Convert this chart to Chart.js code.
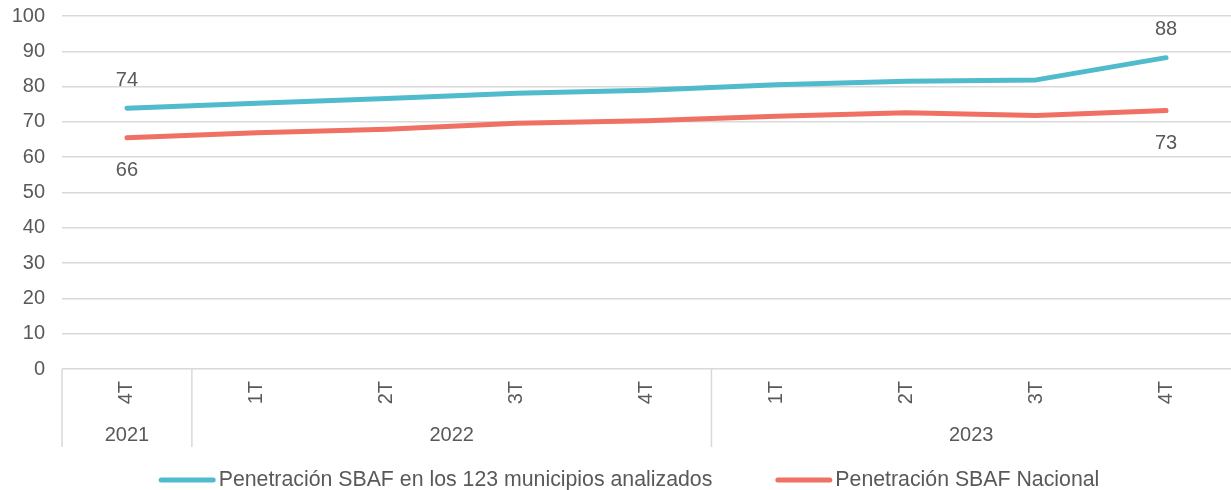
<!DOCTYPE html>
<html>
<head>
<meta charset="utf-8">
<script src="https://cdn.jsdelivr.net/npm/chart.js@4"></script>
<style>
  html, body { margin: 0; padding: 0; background: #fff; }
  #wrap { width: 1231px; height: 490px; }
</style>
</head>
<body>
<div id="wrap"><canvas id="chart"></canvas></div>
<script>
// Penetración SBAF — trimestral 4T 2021 a 4T 2023
const QUARTERS = ['4T', '1T', '2T', '3T', '4T', '1T', '2T', '3T', '4T'];
const YEARS = ['2021', '2022', '2023'];
const YEAR_SPANS = [1, 4, 4]; // quarters per year

const MUNICIPIOS = [73.9, 75.3, 76.6, 78.1, 79.0, 80.5, 81.5, 81.9, 88.2];
const NACIONAL = [65.5, 66.9, 67.9, 69.6, 70.3, 71.6, 72.6, 71.8, 73.2];

const SERIES_LABELS = [
  'Penetración SBAF en los 123 municipios analizados',
  'Penetración SBAF Nacional',
];

const Y_TICKS = { min: 0, max: 100, step: 10 };

const TEAL = '#4fbbcc';
const SALMON = '#f07064';
const TEXT = '#595959';
const GRID = '#d9d9d9';
const FONT = "'Liberation Sans', Arial, sans-serif";

// year groups + separators under the quarter ticks
const yearGroups = {
  id: 'yearGroups',
  afterDraw(chart) {
    const x = chart.scales.x;
    const area = chart.chartArea;
    const ctx = chart.ctx;
    const half = (x.getPixelForValue(1) - x.getPixelForValue(0)) / 2;
    ctx.save();
    ctx.strokeStyle = GRID;
    ctx.lineWidth = 1.5;
    ctx.fillStyle = TEXT;
    ctx.font = '20px ' + FONT;
    ctx.textAlign = 'center';
    ctx.textBaseline = 'middle';
    let idx = 0;
    YEARS.forEach((yr, i) => {
      const left = x.getPixelForValue(idx) - half;
      const right = x.getPixelForValue(idx + YEAR_SPANS[i] - 1) + half;
      ctx.beginPath();
      ctx.moveTo(left, area.bottom);
      ctx.lineTo(left, area.bottom + 78);
      ctx.stroke();
      ctx.fillText(yr, (left + right) / 2, area.bottom + 66);
      idx += YEAR_SPANS[i];
    });
    ctx.restore();
  },
};

// value labels on first and last points
const endLabels = {
  id: 'endLabels',
  afterDatasetsDraw(chart) {
    const ctx = chart.ctx;
    ctx.save();
    ctx.fillStyle = TEXT;
    ctx.font = '20px ' + FONT;
    ctx.textAlign = 'center';
    ctx.textBaseline = 'middle';
    chart.data.datasets.forEach((ds, di) => {
      const meta = chart.getDatasetMeta(di);
      const off = di === 0 ? -28 : 33;
      [0, ds.data.length - 1].forEach(i => {
        const pt = meta.data[i];
        ctx.fillText(String(Math.round(ds.data[i])), pt.x, pt.y + off);
      });
    });
    ctx.restore();
  },
};

// bottom legend: long line swatch, tight gap to text
const lineLegend = {
  id: 'lineLegend',
  afterDraw(chart) {
    const ctx = chart.ctx;
    const sw = 57, gap = 3, between = 63, y = 480;
    ctx.save();
    ctx.font = '21.3px ' + FONT;
    const items = chart.data.datasets.map(ds => ({
      text: ds.label, color: ds.borderColor, w: ctx.measureText(ds.label).width,
    }));
    const total = items.reduce((s, it) => s + sw + gap + it.w, 0) + between * (items.length - 1);
    let x = 629 - total / 2;
    ctx.textBaseline = 'middle';
    ctx.textAlign = 'left';
    ctx.lineCap = 'round';
    ctx.lineWidth = 5;
    for (const it of items) {
      ctx.strokeStyle = it.color;
      ctx.beginPath();
      ctx.moveTo(x + 2.5, y);
      ctx.lineTo(x + sw - 2.5, y);
      ctx.stroke();
      ctx.fillStyle = TEXT;
      ctx.fillText(it.text, x + sw + gap, y);
      x += sw + gap + it.w + between;
    }
    ctx.restore();
  },
};

new Chart(document.getElementById('chart'), {
  type: 'line',
  data: {
    labels: QUARTERS,
    datasets: [
      {
        label: SERIES_LABELS[0],
        data: MUNICIPIOS,
        borderColor: TEAL,
        backgroundColor: TEAL,
        borderWidth: 5,
        borderCapStyle: 'round',
        borderJoinStyle: 'round',
        pointRadius: 0,
        tension: 0,
      },
      {
        label: SERIES_LABELS[1],
        data: NACIONAL,
        borderColor: SALMON,
        backgroundColor: SALMON,
        borderWidth: 5,
        borderCapStyle: 'round',
        borderJoinStyle: 'round',
        pointRadius: 0,
        tension: 0,
      },
    ],
  },
  options: {
    responsive: true,
    maintainAspectRatio: false,
    animation: false,
    layout: { padding: { top: 16, left: 0, right: 0, bottom: 36 } },
    plugins: {
      legend: { display: false },
      tooltip: { enabled: false },
    },
    scales: {
      x: {
        offset: true,
        grid: { display: false },
        border: { display: false },
        ticks: {
          color: TEXT,
          font: { family: FONT, size: 20 },
          minRotation: 90,
          maxRotation: 90,
          autoSkip: false,
          padding: 4,
        },
        afterFit(scale) { scale.height = 85; },
      },
      y: {
        min: Y_TICKS.min,
        max: Y_TICKS.max,
        grid: { color: GRID, lineWidth: 1.5, drawTicks: false },
        border: { display: false },
        ticks: {
          stepSize: Y_TICKS.step,
          color: TEXT,
          font: { family: FONT, size: 20 },
          padding: 17,
        },
        afterFit(scale) {
          scale.width = 62;
          scale.paddingTop = 0;
          scale.paddingBottom = 0;
        },
      },
    },
  },
  plugins: [yearGroups, endLabels, lineLegend],
});
</script>
</body>
</html>
